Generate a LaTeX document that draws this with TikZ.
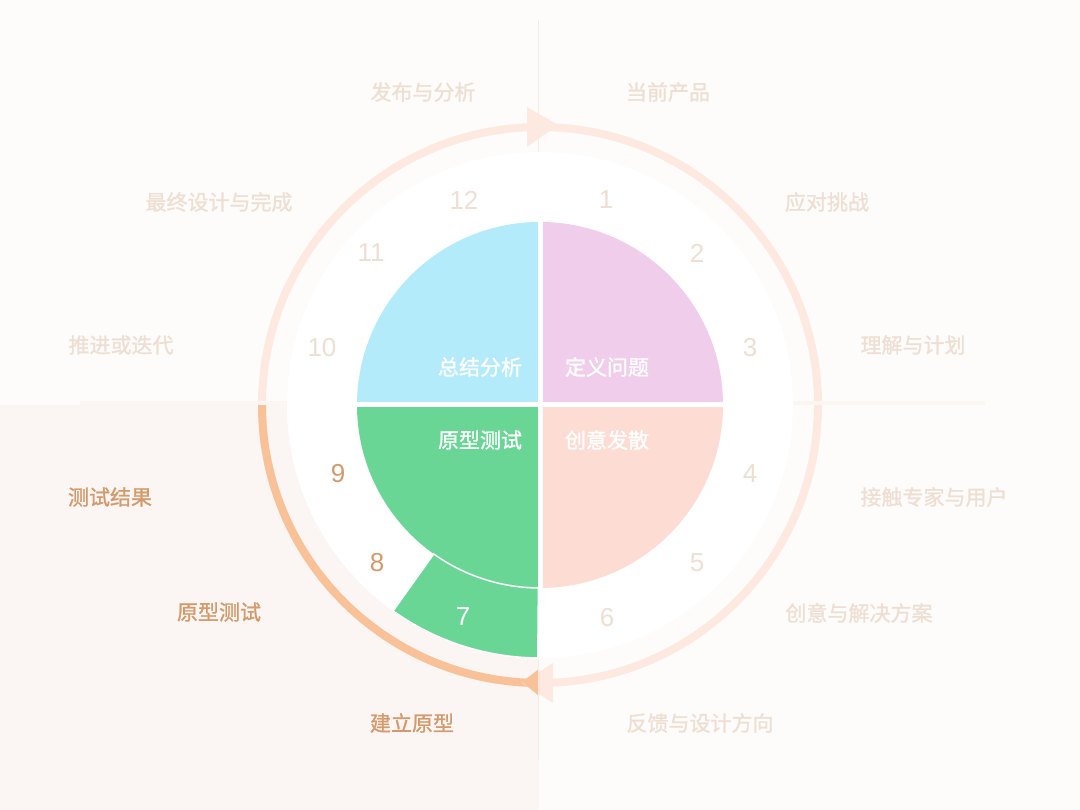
\documentclass[tikz,border=0pt]{standalone}
\usepackage{fontspec}
\usepackage{xcolor}
\setmainfont{Noto Sans CJK SC}
\newfontfamily\lblfont[FakeBold=1.2]{Noto Sans CJK SC}
\newfontfamily\numfont{Liberation Sans}

\definecolor{bgbase}{HTML}{FEFCFB}
\definecolor{bgdark}{HTML}{FBF6F3}
\definecolor{rulelight}{HTML}{FCF6F3}
\definecolor{ruleline}{HTML}{F6EAE3}
\definecolor{ringlight}{HTML}{FDE9DF}
\definecolor{ringdark}{HTML}{F8C197}
\definecolor{textlight}{HTML}{EFDFD3}
\definecolor{textdark}{HTML}{D49A6C}
\definecolor{qblue}{HTML}{B3EBFB}
\definecolor{qpink}{HTML}{F0CDEA}
\definecolor{qpeach}{HTML}{FDDDD3}
\definecolor{qgreen}{HTML}{69D696}

\begin{document}
\begin{tikzpicture}[x=1pt,y=1pt,
	lbl/.style={inner sep=0pt,font=\lblfont\fontsize{21}{21}\selectfont},
	num/.style={inner sep=0pt,font=\numfont\fontsize{26}{26}\selectfont}]
		\useasboundingbox (0,0) rectangle (1080,810);
		\fill[bgbase] (0,0) rectangle (1080,810);
		\fill[bgdark] (0,0) rectangle (539,405);
		\coordinate (o) at (540,405);

		% ring and arrows
		\draw[ringlight,line width=8pt] (o) circle (278pt);
		\draw[ringdark,line width=8pt] (262,405) arc (180:270:278pt);
		\fill[ringlight] (527,703) -- (527,663) -- (558,685) -- cycle;
		\fill[ringlight] (553,147) -- (553,107) -- (522,127) -- cycle;
		\fill[ringdark] (539,141) -- (539,114) -- (522,128) -- cycle;

		\draw[rulelight,line width=4pt] (80,407) -- (985,407);
		\draw[ruleline,line width=1pt] (538,790) -- (538,50);

		% disk and quarters
		\fill[white] (o) circle (253pt);
		\fill[qblue] (o) -- ++(180:183pt) arc (180:90:183pt) -- cycle;
		\fill[qpink] (o) -- ++(90:183pt) arc (90:0:183pt) -- cycle;
		\fill[qpeach] (o) -- ++(0:183pt) arc (0:-90:183pt) -- cycle;
		\fill[qgreen] (o) -- ++(270:183pt) arc (270:180:183pt) -- cycle;
		\filldraw[fill=qgreen,draw=white,line width=1.5pt] ([shift={(o)}]234.5:183pt) -- ([shift={(o)}]234.5:253pt)
			arc (234.5:269.5:253pt) -- ([shift={(o)}]269.5:183pt) arc (269.5:234.5:183pt) -- cycle;
		\draw[white,line width=5pt] (540,150) -- (540,590);
		\draw[white,line width=5pt] (355,405) -- (725,405);

		\node (q1) at (480,443) [lbl,white] {总结分析};
		\node (q2) at (607,443) [lbl,white] {定义问题};
		\node (q3) at (480,370) [lbl,white] {原型测试};
		\node (q4) at (607,370) [lbl,white] {创意发散};

		% numbers
		\foreach \t/\x/\y in {1/606/610,2/697/557,3/750/462,4/750/336,5/697/247,6/607/192,10/322/462,11/371/557,12/464/610}
			\node (n\t) at (\x,\y) [num,textlight] {\t};
		\node (n7) at (463,193) [num,white] {7};
		\node (n8) at (377,247) [num,textdark] {8};
		\node (n9) at (338,336) [num,textdark] {9};

		% step labels
		\node (l12) at (423,718) [lbl,textlight] {发布与分析};
		\node (l1) at (668,718) [lbl,textlight] {当前产品};
		\node (l11) at (219,608) [lbl,textlight] {最终设计与完成};
		\node (l2) at (827,608) [lbl,textlight] {应对挑战};
		\node (l10) at (121,465) [lbl,textlight] {推进或迭代};
		\node (l3) at (913,465) [lbl,textlight] {理解与计划};
		\node (l9) at (110,313) [lbl,textdark] {测试结果};
		\node (l4) at (934,313) [lbl,textlight] {接触专家与用户};
		\node (l8) at (219,198) [lbl,textdark] {原型测试};
		\node (l5) at (859,197) [lbl,textlight] {创意与解决方案};
		\node (l7) at (412,87) [lbl,textdark] {建立原型};
		\node (l6) at (700,87) [lbl,textlight] {反馈与设计方向};
\end{tikzpicture}
\end{document}
